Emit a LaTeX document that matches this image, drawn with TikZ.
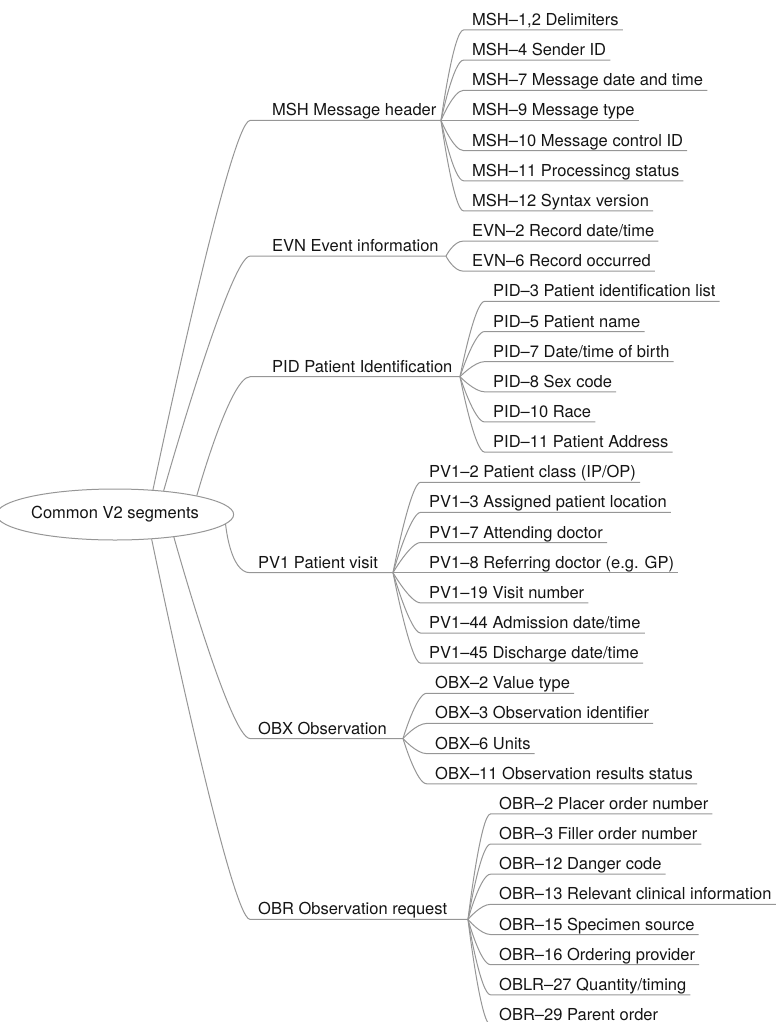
\documentclass[tikz,border=0pt]{standalone}
\usepackage{fontspec}
\setmainfont{TeX Gyre Heros}
\usetikzlibrary{calc,shapes.geometric}
\definecolor{linegray}{RGB}{150,150,150}
\definecolor{inkblack}{RGB}{20,20,20}

% slot k sits on the underline y = 30 + 30.15 k
% a second-level item: name, junction coordinate, text x, slot, text
\newcommand{\leafitem}[5]{%
  \node[itemtext] (#1) at (#3, 25.5+30.15*#4) {#5};
  \coordinate (#1s) at (#3-8.5, 30+30.15*#4);
  \coordinate (#1e) at ([xshift=4pt]#1.base east);
  \draw[branch] (#2) .. controls (#2) and ($(#1s)+(-10,0)$) .. (#1s) -- (#1e |- #1s);
}
% a first-level item: name, angle on the root, text x, slot, junction x, text
\newcommand{\branchitem}[6]{%
  \node[itemtext] (#1) at (#3, 25.5+30.15*#4) {#6};
  \coordinate (#1s) at (250, 30+30.15*#4);
  \coordinate (#1j) at (#5, 30+30.15*#4);
  \draw[branch] (root.#2) .. controls (root.#2) and ($(#1s)+(-20,0)$) .. (#1s) -- (#1j);
}

\begin{document}
\begin{tikzpicture}[x=1pt,y=-1pt,
  branch/.style={draw=linegray, line width=1pt},
  itemtext/.style={inner sep=0pt, anchor=base west, text=inkblack,
    font=\fontsize{16.5}{20}\selectfont},
  rootnode/.style={ellipse, draw=linegray, line width=1pt, fill=white,
    minimum width=214pt, minimum height=51pt, inner sep=0pt, text=inkblack,
    font=\fontsize{16.5}{20}\selectfont}]
\useasboundingbox (0,0) rectangle (776,1022);
\clip (0,0) rectangle (776,1022);

\node[rootnode] (root) at (115,514.5) {Common V2 segments};

% MSH
\branchitem{msh}{33.5}{272}{3}{441}{MSH Message header}
\leafitem{msha}{mshj}{472}{0}{MSH–1,2 Delimiters}
\leafitem{mshb}{mshj}{472}{1}{MSH–4 Sender ID}
\leafitem{mshc}{mshj}{472}{2}{MSH–7 Message date and time}
\leafitem{mshd}{mshj}{472}{3}{MSH–9 Message type}
\leafitem{mshe}{mshj}{472}{4}{MSH–10 Message control ID}
\leafitem{mshf}{mshj}{472}{5}{MSH–11 Processincg status}
\leafitem{mshg}{mshj}{472}{6}{MSH–12 Syntax version}

% EVN
\branchitem{evn}{26}{272}{7.5}{446}{EVN Event information}
\leafitem{evna}{evnj}{472}{7}{EVN–2 Record date/time}
\leafitem{evnb}{evnj}{472}{8}{EVN–6 Record occurred}

% PID
\branchitem{pid}{13}{272}{11.5}{460}{PID Patient Identification}
\leafitem{pida}{pidj}{493}{9}{PID–3 Patient identification list}
\leafitem{pidb}{pidj}{493}{10}{PID–5 Patient name}
\leafitem{pidc}{pidj}{493}{11}{PID–7 Date/time of birth}
\leafitem{pidd}{pidj}{493}{12}{PID–8 Sex code}
\leafitem{pide}{pidj}{493}{13}{PID–10 Race}
\leafitem{pidf}{pidj}{493}{14}{PID–11 Patient Address}

% PV1
\branchitem{pv}{-5}{258}{18}{393}{PV1 Patient visit}
\leafitem{pva}{pvj}{429}{15}{PV1–2 Patient class (IP/OP)}
\leafitem{pvb}{pvj}{429}{16}{PV1–3 Assigned patient location}
\leafitem{pvc}{pvj}{429}{17}{PV1–7 Attending doctor}
\leafitem{pvd}{pvj}{429}{18}{PV1–8 Referring doctor (e.g. GP)}
\leafitem{pve}{pvj}{429}{19}{PV1–19 Visit number}
\leafitem{pvf}{pvj}{429}{20}{PV1–44 Admission date/time}
\leafitem{pvg}{pvj}{429}{21}{PV1–45 Discharge date/time}

% OBX
\branchitem{obx}{-21}{258}{23.5}{403}{OBX Observation}
\leafitem{obxa}{obxj}{435}{22}{OBX–2 Value type}
\leafitem{obxb}{obxj}{435}{23}{OBX–3 Observation identifier}
\leafitem{obxc}{obxj}{435}{24}{OBX–6 Units}
\leafitem{obxd}{obxj}{435}{25}{OBX–11 Observation results status}

% OBR
\branchitem{obr}{-34.5}{258}{29.5}{468}{OBR Observation request}
\leafitem{obra}{obrj}{499}{26}{OBR–2 Placer order number}
\leafitem{obrb}{obrj}{499}{27}{OBR–3 Filler order number}
\leafitem{obrc}{obrj}{499}{28}{OBR–12 Danger code}
\leafitem{obrd}{obrj}{499}{29}{OBR–13 Relevant clinical information}
\leafitem{obre}{obrj}{499}{30}{OBR–15 Specimen source}
\leafitem{obrf}{obrj}{499}{31}{OBR–16 Ordering provider}
\leafitem{obrg}{obrj}{499}{32}{OBLR–27 Quantity/timing}
\leafitem{obrh}{obrj}{499}{33}{OBR–29 Parent order}
\end{tikzpicture}
\end{document}
